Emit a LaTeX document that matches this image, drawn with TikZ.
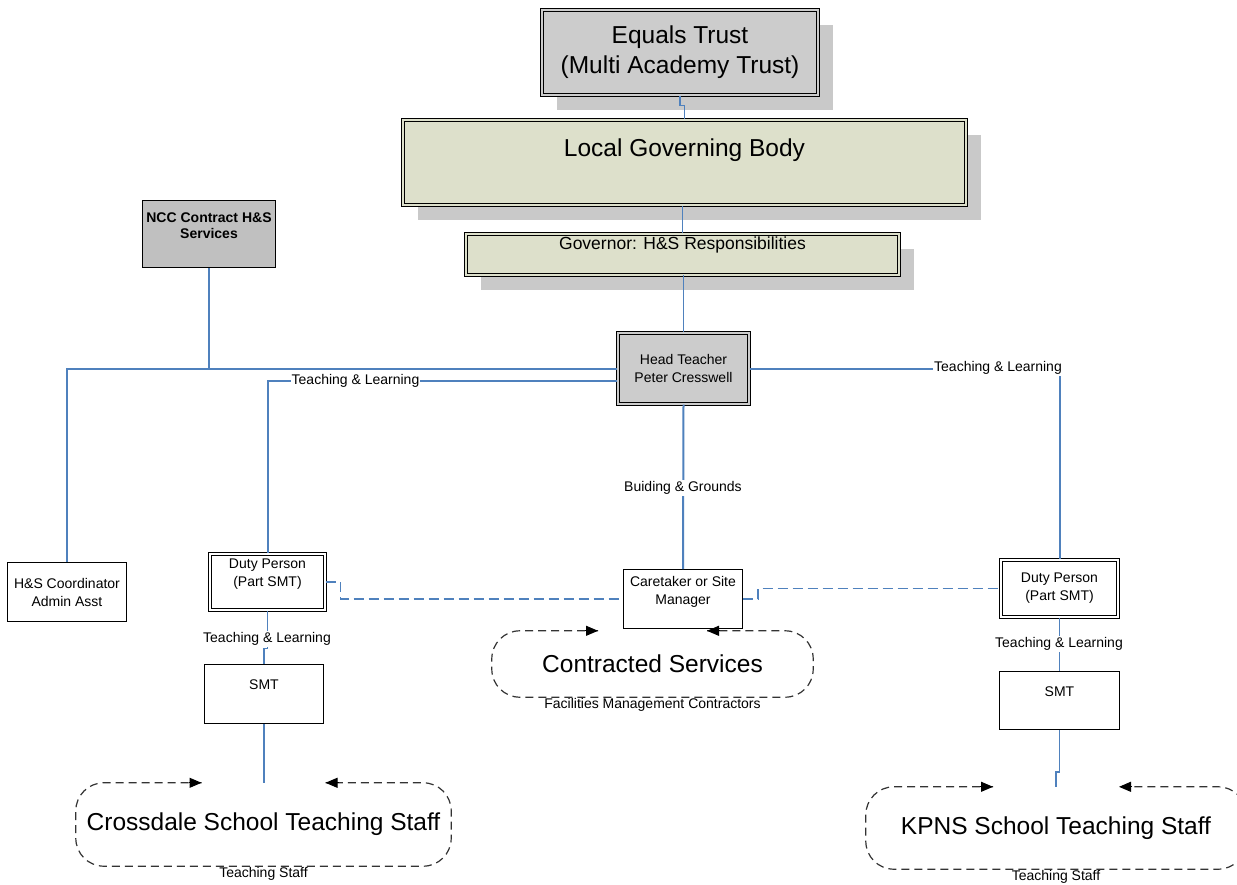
\documentclass[tikz,border=0pt]{standalone}
\usepackage{fontspec}
\setmainfont{Liberation Sans}
\usepackage{xcolor}
\usepackage{tikz}
\usetikzlibrary{calc,positioning,shadows,arrows.meta}

\definecolor{boxgray}{HTML}{CCCCCC}
\definecolor{nccgray}{HTML}{C0C0C0}
\definecolor{shadegray}{HTML}{C9C9C9}
\definecolor{govolive}{HTML}{DDE0CB}
\definecolor{linkblue}{HTML}{4F81BD}

\tikzset{
	small/.style={font=\fontsize{14}{18}\selectfont},
	large/.style={font=\fontsize{24.5}{30}\selectfont},
	plainbox/.style={draw, line width=1pt, fill=white, align=center, inner sep=2pt, small},
	dblbox/.style={draw, double=#1, double distance=1.8pt, line width=1.1pt, fill=#1, align=center, inner sep=2pt, small},
	shadowed/.style={drop shadow={shadow xshift=15pt, shadow yshift=-15pt, fill=shadegray, opacity=1}},
	cloudbox/.style={inner sep=2pt, align=center, large},
	link/.style={draw=linkblue, line width=2pt},
	thinlink/.style={draw=linkblue, line width=1.3pt},
	dashlink/.style={draw=linkblue, line width=1.2pt, dash pattern=on 10pt off 5pt},
	cloudline/.style={draw=black!80, line width=1.2pt, dash pattern=on 8pt off 5pt, rounded corners=28pt},
	cloudtip/.style={draw=black, line width=1pt, solid, -{Triangle[length=12pt,width=10pt]}},
	lbl/.style={fill=white, inner sep=1pt, small},
	caption/.style={inner sep=0pt, small}
}

\begin{document}
\begin{tikzpicture}[x=1pt, y=-1pt]
			\useasboundingbox (0,0) rectangle (1237,885);
			\fill[white] (0,0) rectangle (1237,885);
			\clip (0,0) rectangle (1237,885);

			\node[dblbox=boxgray, shadowed, large, minimum width=276pt, minimum height=85pt] (trust) at (680,52.5) {Equals Trust\\(Multi Academy Trust)};
			\node[dblbox=govolive, shadowed, large, minimum width=563pt, minimum height=85pt] (lgb) at (684.5,162.5) {Local Governing Body\\~};
			\node[dblbox=govolive, shadowed, font=\fontsize{17.5}{23}\selectfont, minimum width=433pt, minimum height=41pt] (gov) at (682.5,254.5) {Governor: H\&S Responsibilities\\~};
			\node[dblbox=boxgray, minimum width=131pt, minimum height=71pt] (head) at (683.5,368.5) {Head Teacher\\Peter Cresswell};
			\node[plainbox, fill=nccgray, font=\bfseries\fontsize{14}{16}\selectfont, minimum width=133pt, minimum height=67pt] (ncc) at (209,234) {NCC Contract H\&S\\Services\\~};
			\node[plainbox, minimum width=119pt, minimum height=59pt] (hs) at (67,592) {H\&S Coordinator\\Admin Asst};
			\node[dblbox=white, minimum width=115pt, minimum height=56pt] (dutyL) at (267.5,582) {Duty Person\\(Part SMT)\\~};
			\node[plainbox, minimum width=119pt, minimum height=59pt] (care) at (683,599) {Caretaker or Site\\Manager\\~};
			\node[dblbox=white, minimum width=117pt, minimum height=57pt] (dutyR) at (1059.5,588.5) {Duty Person\\(Part SMT)};
			\node[plainbox, minimum width=119pt, minimum height=59pt] (smtL) at (264,694) {SMT\\~};
			\node[plainbox, minimum width=120pt, minimum height=58pt] (smtR) at (1059.5,700.5) {SMT\\~};

			\node[cloudbox, minimum width=321pt, minimum height=66pt] (cs) at (652.5,664) {Contracted Services};
			\node[cloudbox, minimum width=375pt, minimum height=83pt] (crs) at (263.5,824.5) {Crossdale School Teaching Staff};
			\node[cloudbox, minimum width=380pt, minimum height=82pt] (kp) at (1056,828) {KPNS School Teaching Staff};
			\node[caption, below=1pt of cs] (csc) {Facilities Management Contractors};
			\node[caption, below=1pt of crs] (crsc) {Teaching Staff};
			\node[caption, below=1pt of kp] (kpc) {Teaching Staff};

			\foreach \c/\g in {cs/54.5, crs/62, kp/63} {
				\draw[cloudline] ([xshift=-\g pt]\c.north) -- (\c.north west) -- (\c.south west) -- (\c.south east) -- (\c.north east) -- ([xshift=\g pt]\c.north);
				\draw[cloudtip] ([xshift=-\g pt-13pt]\c.north) -- ([xshift=-\g pt]\c.north);
				\draw[cloudtip] ([xshift=\g pt+13pt]\c.north) -- ([xshift=\g pt]\c.north);
			}

			\draw[thinlink] (trust.south) -- ++(0,10) -| (lgb.north);
			\draw[thinlink] (gov.north) -- (gov.north |- lgb.south);
			\draw[thinlink] (gov.south) -- (gov.south -| head.north) -- (head.north);
			\draw[link] (ncc.south) -- (ncc.south |- head.west);
			\draw[link] (head.west) -| (hs.north);
			\draw[link] ([yshift=-12.5pt]head.west) -| (dutyL.north);
			\draw[link] (head.east) -| (dutyR.north);
			\draw[link] (head.south) -- (care.north);
			\draw[dashlink] (dutyL.east) -- ++(15,0) |- (care.west);
			\draw[dashlink] (care.east) -- ++(15,0) |- (dutyR.west);
			\draw[thinlink] (dutyL.south) -- ++(0,38) -| (smtL.north);
			\draw[thinlink] (dutyR.south) -- (smtR.north);
			\draw[thinlink] (smtL.south) -- (smtL.south |- crs.north);
			\draw[thinlink] (smtR.south) -- ++(0,42) -| (kp.north);

			\node[lbl] (tlHead) at (355.5,381) {Teaching \& Learning};
			\node[lbl] (tlRight) at (998,368) {Teaching \& Learning};
			\node[lbl] (bg) at (683,488) {Buiding \& Grounds};
			\node[lbl] (tlDutyL) at (267,639) {Teaching \& Learning};
			\node[lbl] (tlDutyR) at (1059,644) {Teaching \& Learning};
		\end{tikzpicture}
\end{document}
